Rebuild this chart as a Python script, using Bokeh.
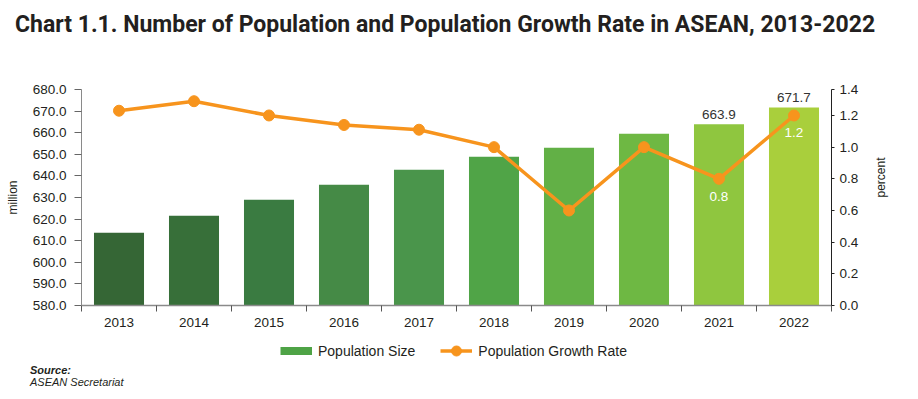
import math
from bokeh.plotting import figure
from bokeh.layouts import column
from bokeh.models import (ColumnDataSource, Range1d, LinearAxis, FixedTicker, Div,
                          NumeralTickFormatter, LabelSet, Legend, LegendItem)
from bokeh.embed import file_html
from bokeh.resources import INLINE
from bokeh.core.properties import value

years = [2013, 2014, 2015, 2016, 2017, 2018, 2019, 2020, 2021, 2022]
population = [613.7, 621.6, 629.0, 635.9, 642.9, 648.9, 653.0, 659.5, 663.9, 671.7]
growth_rate = [1.23, 1.29, 1.20, 1.14, 1.11, 1.00, 0.60, 1.00, 0.80, 1.20]
bar_colors = ["#356635", "#376f39", "#3a7b41", "#458a46", "#4a954b",
              "#50a447", "#62b046", "#6eb843", "#8fc63f", "#a9cf3c"]
pop_label_years = [2021, 2022]
rate_label_years = [2021, 2022]
left_ticks = [580, 590, 600, 610, 620, 630, 640, 650, 660, 670, 680]
right_ticks = [0.0, 0.2, 0.4, 0.6, 0.8, 1.0, 1.2, 1.364]
title_text = "Chart 1.1. Number of Population and Population Growth Rate in ASEAN, 2013-2022"
series_names = ["Population Size", "Population Growth Rate"]
source_lines = ["Source:", "ASEAN Secretariat"]

FONT = "Liberation Sans"
TXT = "#231f20"
ORANGE = "#f7941d"
GREEN_KEY = "#4ea346"
W = 902
H_TOP = 60
H_LEG = 29
FS = "13.5px"

# ---- title
title_div = Div(text=title_text, width=W, height=H_TOP, margin=0,
                styles={"font-family": "Roboto", "font-weight": "bold", "font-size": "23px",
                        "line-height": "23px", "color": TXT, "padding-top": "13px",
                        "padding-left": "15px", "white-space": "nowrap",
                        "box-sizing": "border-box", "overflow": "visible"})

# ---- main chart
src = ColumnDataSource(dict(year=years, pop=population, rate=growth_rate, color=bar_colors))
pop_lab = ColumnDataSource(dict(
    year=list(pop_label_years),
    pop=[population[years.index(y)] for y in pop_label_years],
    txt=[f"{population[years.index(y)]:.1f}" for y in pop_label_years]))
rate_lab = ColumnDataSource(dict(
    year=list(rate_label_years),
    rate=[growth_rate[years.index(y)] for y in rate_label_years],
    txt=[f"{growth_rate[years.index(y)]:.1f}" for y in rate_label_years]))

p = figure(frame_width=750, frame_height=216,
           x_range=Range1d(years[0] - 0.5, years[-1] + 0.5),
           y_range=Range1d(left_ticks[0], left_ticks[-1]),
           output_backend="svg", toolbar_location=None,
           min_border_left=81, min_border_right=71,
           min_border_top=89 - H_TOP, min_border_bottom=30)
p.extra_y_ranges = {"pct": Range1d(right_ticks[0], right_ticks[-1])}
p.outline_line_color = None
p.xgrid.visible = False
p.ygrid.visible = False

p.vbar(x="year", top="pop", bottom=left_ticks[0], width=0.667,
       fill_color="color", line_color=None, source=src)
p.line(x="year", y="rate", y_range_name="pct", line_color=ORANGE, line_width=3.5, source=src)
p.scatter(x="year", y="rate", y_range_name="pct", size=11,
          fill_color=ORANGE, line_color=ORANGE, source=src)

p.add_layout(LabelSet(x="year", y="pop", text="txt", source=pop_lab, y_offset=5,
                      text_align="center", text_baseline="bottom",
                      text_font=value(FONT), text_font_size=FS, text_color="#333333"))
p.add_layout(LabelSet(x="year", y="rate", text="txt", source=rate_lab, y_range_name="pct",
                      y_offset=-13, text_align="center", text_baseline="top",
                      text_font=value(FONT), text_font_size=FS, text_color="white"))

xa = p.xaxis[0]
xa.ticker = FixedTicker(ticks=years, minor_ticks=[y - 0.5 for y in years] + [years[-1] + 0.5])
xa.major_tick_line_color = None
xa.minor_tick_out = 6
xa.minor_tick_in = 0
xa.minor_tick_line_color = "#555555"
xa.axis_line_color = "#8a8a8a"
xa.axis_line_width = 1.5
xa.major_label_text_font = FONT
xa.major_label_text_font_size = FS
xa.major_label_text_color = TXT
xa.major_label_standoff = 6

ya = p.yaxis[0]
ya.ticker = FixedTicker(ticks=left_ticks)
ya.formatter = NumeralTickFormatter(format="0.0")
ya.minor_tick_line_color = None
ya.major_tick_out = 7
ya.major_tick_in = 0
ya.major_tick_line_color = "#666666"
ya.axis_line_color = "#8a8a8a"
ya.major_label_text_font = FONT
ya.major_label_text_font_size = FS
ya.major_label_text_color = TXT
ya.major_label_standoff = 8
ya.axis_label = "million"
ya.axis_label_text_font = FONT
ya.axis_label_text_font_size = "12px"
ya.axis_label_text_font_style = "normal"
ya.axis_label_text_color = TXT
ya.axis_label_standoff = 10

ra = LinearAxis(y_range_name="pct", ticker=FixedTicker(ticks=right_ticks),
                formatter=NumeralTickFormatter(format="0.0"))
ra.minor_tick_line_color = None
ra.major_tick_out = 3
ra.major_tick_in = 0
ra.major_tick_line_color = "#222222"
ra.axis_line_color = "#222222"
ra.major_label_text_font = FONT
ra.major_label_text_font_size = FS
ra.major_label_text_color = TXT
ra.major_label_standoff = 5
ra.axis_label = "percent"
ra.axis_label_text_font = FONT
ra.axis_label_text_font_size = "12px"
ra.axis_label_text_font_style = "normal"
ra.axis_label_text_color = TXT
ra.axis_label_standoff = 20
ra.axis_label_orientation = math.pi / 2
p.add_layout(ra, "right")

# ---- legend strip (frame aligned with the chart frame)
pb = figure(width=W, height=H_LEG, x_range=Range1d(0, 750), y_range=Range1d(0, H_LEG),
            x_axis_location=None, y_axis_location=None, min_border=0,
            output_backend="svg", toolbar_location=None)
pb.outline_line_color = None
pb.xgrid.visible = False
pb.ygrid.visible = False
# legend key proxies: the year values lie outside this strip's x range, so nothing is drawn
key_bar = pb.line(x="year", y="rate", line_color=GREEN_KEY, line_width=8, line_cap="butt",
                  source=src)
key_line = pb.line(x="year", y="rate", line_color=ORANGE, line_width=3.5, source=src)
key_dot = pb.scatter(x="year", y="rate", fill_color=ORANGE, line_color=ORANGE, source=src)
legend = Legend(items=[LegendItem(label=series_names[0], renderers=[key_bar]),
                       LegendItem(label=series_names[1], renderers=[key_line, key_dot])],
                orientation="horizontal", location=(199, 1), padding=0, margin=0,
                spacing=25, glyph_width=32, glyph_height=25, label_standoff=6,
                border_line_color=None, background_fill_alpha=0,
                label_text_font=FONT, label_text_font_size="14px", label_text_color=TXT)
pb.add_layout(legend, "center")

# ---- source
src_html = f"<b><i>{source_lines[0]}</i></b><br><i>{source_lines[1]}</i>"
source_div = Div(text=src_html, width=W, height=25, margin=0,
                 styles={"font-family": FONT, "font-size": "11px", "line-height": "12px",
                         "color": TXT, "padding-left": "30px", "white-space": "nowrap",
                         "box-sizing": "border-box"})

layout = column(title_div, p, pb, source_div, spacing=0)
open("out.html", "w").write(file_html(layout, INLINE))
